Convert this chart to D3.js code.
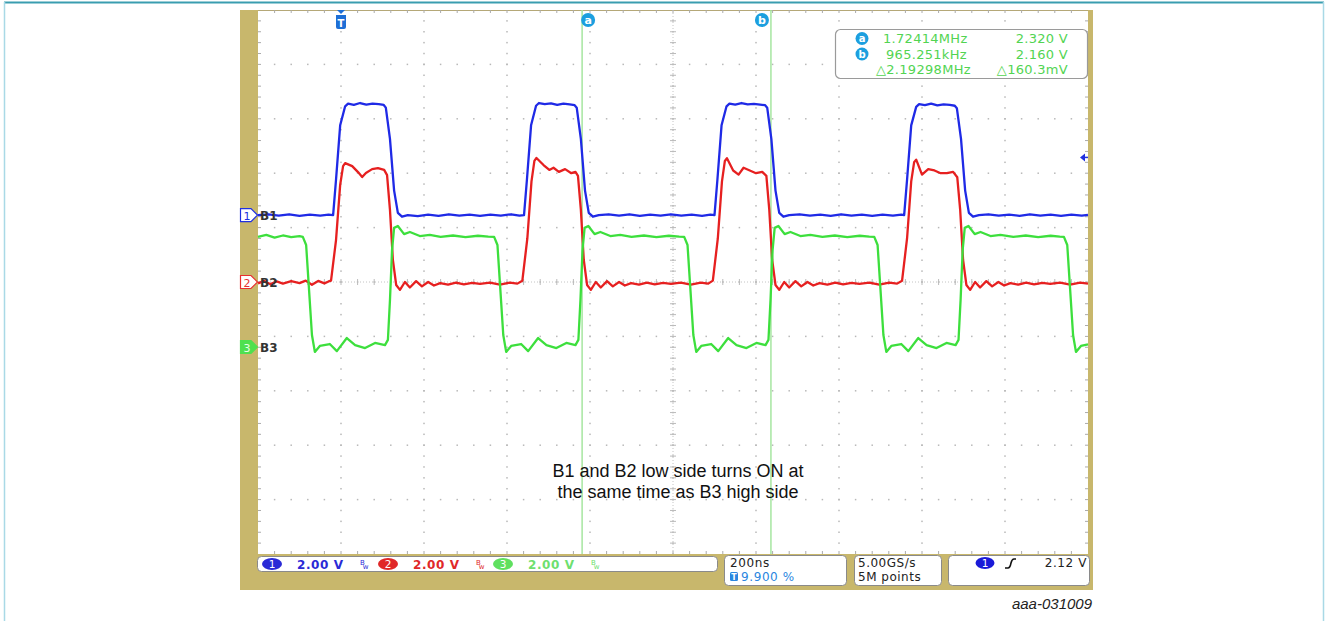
<!DOCTYPE html>
<html><head><meta charset="utf-8">
<script src="https://cdn.jsdelivr.net/npm/d3@7"></script>
<style>body{margin:0;background:#fff;} svg{display:block;}</style>
</head><body>
<svg id="c" width="1328" height="621"></svg>
<script>
// ---------------- data ----------------
const channelNames = ["B1", "B2", "B3"];
const channelNumbers = ["1", "2", "3"];
const channelOffsetsV = [2.46, 0, -2.39];      // screen offset (volts) of each channel ground
const channelScaleLabels = ["2.00 V", "2.00 V", "2.00 V"];
const timeDomainNs = [-200, 1800];             // 200 ns/div, 10 divisions
const screenVoltDomain = [-10, 10];            // 2 V/div, 10 divisions
const cursorTimesNs = [581, 1036];
const cursorLabels = ["a", "b"];
const triggerTimeNs = 0;
const triggerLevelV = 2.12;
const readoutFreq = ["1.72414MHz", "965.251kHz", "\u25B32.19298MHz"];
const readoutVolt = ["2.320 V", "2.160 V", "\u25B3160.3mV"];
const timebaseLabel = "200ns";
const triggerPosLabel = "9.900 %";
const sampleLabels = ["5.00GS/s", "5M points"];
const trigLevelLabel = "2.12 V";
const noteLines = ["B1 and B2 low side turns ON at", "the same time as B3 high side"];
const figureId = "aaa-031009";

const b1Trace = [[-200,0.00],[-175,0.03],[-150,-0.02],[-125,0.03],[-100,-0.03],[-75,0.02],[-50,-0.02],[-30,0.02],[-19,0.00],[-12,1.30],[-2,3.30],[10,4.00],[17,4.10],[31,4.05],[46,4.12],[61,4.06],[76,4.10],[91,4.08],[103,4.05],[108,3.95],[118,2.80],[128,0.90],[137,0.08],[147,-0.06],[161,0.00],[185,-0.04],[210,0.02],[235,-0.03],[260,0.03],[285,-0.02],[310,0.02],[335,-0.03],[360,0.02],[385,-0.02],[410,0.03],[430,-0.02],[441,0.00],[448,1.30],[458,3.30],[470,4.02],[477,4.12],[491,4.08],[506,4.11],[521,4.05],[536,4.10],[551,4.07],[563,4.04],[568,3.95],[578,2.80],[588,0.90],[597,0.08],[607,-0.06],[621,0.00],[645,0.03],[670,-0.02],[695,0.03],[720,-0.03],[745,0.02],[770,-0.02],[795,0.03],[820,-0.02],[845,0.02],[870,-0.03],[890,0.02],[900,0.00],[907,1.30],[917,3.30],[929,4.00],[936,4.10],[950,4.06],[965,4.12],[980,4.07],[995,4.09],[1010,4.06],[1022,4.04],[1027,3.95],[1037,2.80],[1047,0.90],[1056,0.08],[1066,-0.06],[1080,0.00],[1105,0.03],[1130,-0.02],[1155,0.02],[1180,-0.03],[1205,0.03],[1230,-0.02],[1255,0.02],[1280,-0.03],[1305,0.02],[1330,-0.02],[1350,0.02],[1357,0.00],[1364,1.30],[1374,3.30],[1386,3.98],[1393,4.08],[1407,4.04],[1422,4.10],[1437,4.03],[1452,4.07],[1467,4.05],[1479,4.02],[1484,3.93],[1494,2.80],[1504,0.90],[1513,0.08],[1523,-0.06],[1537,0.00],[1560,0.03],[1585,-0.02],[1610,0.02],[1635,-0.03],[1660,0.03],[1685,-0.02],[1710,0.02],[1735,-0.03],[1760,0.02],[1785,-0.02],[1800,0.01]];

const b2Trace = [[-200,-0.05],[-185,0.04],[-170,-0.08],[-155,0.02],[-140,-0.06],[-120,0.03],[-100,-0.04],[-85,0.05],[-70,-0.10],[-55,0.04],[-40,-0.05],[-30,0.02],[-24,0.05],[-12,1.54],[-2,3.57],[5,4.26],[10,4.37],[27,4.26],[41,4.04],[51,3.86],[60,4.01],[75,4.15],[89,4.19],[104,4.12],[111,3.93],[118,2.65],[125,0.81],[133,-0.11],[142,-0.29],[154,0.00],[166,-0.20],[181,0.03],[195,-0.16],[210,0.00],[224,-0.13],[239,-0.04],[258,-0.10],[277,-0.02],[296,-0.09],[316,-0.03],[335,-0.07],[359,-0.02],[383,-0.10],[407,-0.02],[425,-0.06],[437,0.05],[449,1.60],[459,3.70],[466,4.45],[471,4.56],[488,4.30],[502,4.12],[512,4.20],[525,4.05],[540,4.15],[555,4.00],[565,4.05],[571,3.90],[578,2.65],[585,0.81],[593,-0.11],[602,-0.29],[614,0.00],[626,-0.20],[641,0.03],[655,-0.16],[670,0.00],[684,-0.13],[699,-0.04],[718,-0.10],[737,-0.02],[756,-0.09],[776,-0.03],[795,-0.07],[819,-0.02],[843,-0.10],[867,-0.02],[885,-0.06],[896,0.05],[908,1.60],[918,3.70],[925,4.45],[930,4.55],[945,4.10],[958,3.95],[970,4.20],[985,4.10],[1000,4.00],[1015,4.05],[1025,3.90],[1032,2.65],[1039,0.81],[1047,-0.11],[1056,-0.29],[1068,0.00],[1080,-0.20],[1095,0.03],[1109,-0.16],[1124,0.00],[1138,-0.13],[1153,-0.04],[1172,-0.10],[1191,-0.02],[1210,-0.09],[1230,-0.03],[1249,-0.07],[1273,-0.02],[1297,-0.10],[1321,-0.02],[1340,-0.06],[1352,0.05],[1364,1.60],[1374,3.70],[1381,4.40],[1386,4.50],[1400,3.95],[1415,4.15],[1430,4.10],[1445,4.00],[1460,4.00],[1475,4.05],[1485,3.85],[1492,2.65],[1499,0.81],[1507,-0.11],[1516,-0.29],[1528,0.00],[1540,-0.20],[1555,0.03],[1569,-0.16],[1584,0.00],[1598,-0.13],[1613,-0.04],[1632,-0.10],[1651,-0.02],[1670,-0.09],[1690,-0.03],[1709,-0.07],[1733,-0.02],[1757,-0.10],[1781,-0.02],[1800,-0.06]];

const b3Trace = [[-200,4.05],[-180,4.12],[-160,4.02],[-140,4.10],[-120,4.04],[-100,4.08],[-92,4.05],[-84,3.75],[-77,2.10],[-70,0.44],[-63,-0.18],[-51,0.04],[-27,0.11],[-10,-0.15],[14,0.33],[34,0.07],[58,-0.04],[82,0.15],[106,0.07],[113,0.26],[118,1.73],[123,3.57],[128,4.38],[137,4.45],[152,4.15],[166,4.23],[190,4.08],[214,4.12],[240,4.05],[270,4.10],[300,4.04],[330,4.09],[355,4.06],[369,4.05],[377,3.75],[384,2.10],[391,0.44],[398,-0.18],[410,0.04],[434,0.11],[451,-0.15],[475,0.33],[495,0.07],[519,-0.04],[543,0.15],[565,0.07],[572,0.26],[577,1.73],[582,3.57],[587,4.38],[596,4.45],[611,4.15],[625,4.23],[649,4.08],[673,4.12],[700,4.05],[730,4.10],[760,4.04],[790,4.09],[815,4.06],[827,4.05],[835,3.75],[842,2.10],[849,0.44],[856,-0.18],[868,0.04],[892,0.11],[909,-0.15],[933,0.33],[953,0.07],[977,-0.04],[1001,0.15],[1023,0.07],[1030,0.26],[1035,1.73],[1040,3.57],[1045,4.38],[1054,4.45],[1069,4.15],[1083,4.23],[1107,4.08],[1131,4.12],[1160,4.05],[1190,4.10],[1220,4.04],[1250,4.09],[1273,4.06],[1285,4.05],[1293,3.75],[1300,2.10],[1307,0.44],[1314,-0.18],[1326,0.04],[1350,0.11],[1367,-0.15],[1391,0.33],[1411,0.07],[1435,-0.04],[1459,0.15],[1481,0.07],[1488,0.26],[1493,1.73],[1498,3.57],[1503,4.38],[1512,4.45],[1527,4.15],[1541,4.23],[1565,4.08],[1589,4.12],[1620,4.05],[1650,4.10],[1680,4.04],[1710,4.09],[1732,4.06],[1742,4.05],[1750,3.75],[1757,2.10],[1764,0.44],[1771,-0.18],[1783,0.04],[1800,0.10]];

const traces = [b1Trace, b2Trace, b3Trace];

// ---------------- layout / style ----------------
const traceColors = ["#1f2ae6", "#e62020", "#3ddf3d"];
const markerColors = ["#2030e0", "#e83030", "#4fe04f"];
const statusColors = ["#2a2ad6", "#e02828", "#6ee06e"];
const tan = "#c8b76c";
const P = {x0: 258, x1: 1088, y0: 10, y1: 554};
const scopeFont = "'DejaVu Sans', Verdana, sans-serif";

const svg = d3.select("#c");
const x = d3.scaleLinear().domain(timeDomainNs).range([P.x0, P.x1]);
const y = d3.scaleLinear().domain(screenVoltDomain).range([P.y1, P.y0]);

// outer figure border
svg.append("line").attr("x1", 4).attr("x2", 1324).attr("y1", 2.5).attr("y2", 2.5)
  .attr("stroke", "#3a9db0").attr("stroke-width", 2);
svg.append("line").attr("x1", 4.5).attr("x2", 4.5).attr("y1", 2).attr("y2", 621)
  .attr("stroke", "#a9d9e6").attr("stroke-width", 1.5);
svg.append("line").attr("x1", 1323.5).attr("x2", 1323.5).attr("y1", 2).attr("y2", 621)
  .attr("stroke", "#a9d9e6").attr("stroke-width", 1.5);

// scope bezel
svg.append("rect").attr("x", 240).attr("y", 10).attr("width", 853).attr("height", 580).attr("fill", tan);
svg.append("rect").attr("x", P.x0).attr("y", P.y0 + 1).attr("width", P.x1 - P.x0).attr("height", P.y1 - P.y0 - 1).attr("fill", "#fff");
svg.append("line").attr("x1", P.x0).attr("x2", P.x1).attr("y1", P.y0 + 0.5).attr("y2", P.y0 + 0.5).attr("stroke", "#b5a878").attr("stroke-width", 1);

// graticule
const g = svg.append("g");
const xDiv = (P.x1 - P.x0) / 10, yDiv = (P.y1 - P.y0) / 10;
const majorX = d3.range(1, 10).map(i => P.x0 + i * xDiv);
const majorY = d3.range(1, 10).map(i => P.y0 + i * yDiv);
const minorX = d3.range(1, 50).map(i => P.x0 + i * xDiv / 5);
const minorY = d3.range(1, 50).map(i => P.y0 + i * yDiv / 5);
const dots = [];
majorX.forEach(mx => minorY.forEach(my => dots.push([mx, my])));
majorY.forEach(my => minorX.forEach(mx => dots.push([mx, my])));
g.selectAll("rect.dot").data(dots).join("rect").attr("class", "dot")
  .attr("x", d => d[0] - 0.75).attr("y", d => d[1] - 0.75).attr("width", 1.5).attr("height", 1.5).attr("fill", "#b8b8b8");
// center lines
const cx = P.x0 + 5 * xDiv, cy = P.y0 + 5 * yDiv;
g.append("line").attr("x1", P.x0).attr("x2", P.x1).attr("y1", cy).attr("y2", cy)
  .attr("stroke", "#c4c4c4").attr("stroke-width", 1).attr("stroke-dasharray", "1,2");
g.append("line").attr("x1", cx).attr("x2", cx).attr("y1", P.y0).attr("y2", P.y1)
  .attr("stroke", "#c4c4c4").attr("stroke-width", 1).attr("stroke-dasharray", "1,2");
g.selectAll("line.ctx").data(minorX).join("line").attr("class", "ctx")
  .attr("x1", d => d).attr("x2", d => d).attr("y1", cy - 3).attr("y2", cy + 3).attr("stroke", "#bbb");
g.selectAll("line.cty").data(minorY).join("line").attr("class", "cty")
  .attr("y1", d => d).attr("y2", d => d).attr("x1", cx - 3).attr("x2", cx + 3).attr("stroke", "#bbb");
// edge ticks
g.selectAll("line.etop").data(minorX).join("line").attr("class", "etop")
  .attr("x1", d => d).attr("x2", d => d).attr("y1", P.y0).attr("y2", P.y0 + 3).attr("stroke", "#aaa");
g.selectAll("line.ebot").data(minorX).join("line").attr("class", "ebot")
  .attr("x1", d => d).attr("x2", d => d).attr("y1", P.y1 - 3).attr("y2", P.y1).attr("stroke", "#aaa");
g.selectAll("line.eleft").data(minorY).join("line").attr("class", "eleft")
  .attr("y1", d => d).attr("y2", d => d).attr("x1", P.x0).attr("x2", P.x0 + 3).attr("stroke", "#aaa");
g.selectAll("line.eright").data(minorY).join("line").attr("class", "eright")
  .attr("y1", d => d).attr("y2", d => d).attr("x1", P.x1 - 3).attr("x2", P.x1).attr("stroke", "#aaa");

// cursors
svg.selectAll("line.cursor").data(cursorTimesNs).join("line").attr("class", "cursor")
  .attr("x1", d => x(d)).attr("x2", d => x(d)).attr("y1", P.y0).attr("y2", P.y1)
  .attr("stroke", "#a6e6a0").attr("stroke-width", 1.5);

// traces
const line = d3.line();
traces.forEach((tr, i) => {
  svg.append("path")
    .attr("d", line(tr.map(d => [x(d[0]), y(d[1] + channelOffsetsV[i])])))
    .attr("fill", "none").attr("stroke", traceColors[i]).attr("stroke-width", 2.3)
    .attr("stroke-linejoin", "round");
});

// cursor badges at top
const cursorBadgeDx = [6, -9];
cursorTimesNs.forEach((t, i) => {
  const bx = x(t) + cursorBadgeDx[i];
  svg.append("circle").attr("cx", bx).attr("cy", 20).attr("r", 7).attr("fill", "#1c9fdf");
  svg.append("text").attr("x", bx).attr("y", 24).attr("text-anchor", "middle")
    .attr("font-family", scopeFont).attr("font-size", 11).attr("font-weight", "bold").attr("fill", "#fff").text(cursorLabels[i]);
});

// trigger position marker
const tx = x(triggerTimeNs);
svg.append("path").attr("d", `M${tx-4},${P.y0} L${tx+4},${P.y0} L${tx},${P.y0+4} Z`).attr("fill", "#1e6fd6");
svg.append("path").attr("d", `M${tx-5},${P.y0+5} H${tx+5} V${P.y0+17} Q${tx+5},${P.y0+19} ${tx+3},${P.y0+19} H${tx-3} Q${tx-5},${P.y0+19} ${tx-5},${P.y0+17} Z`).attr("fill", "#1e6fd6");
svg.append("text").attr("x", tx).attr("y", P.y0 + 16.5).attr("text-anchor", "middle")
  .attr("font-family", scopeFont).attr("font-size", 10).attr("font-weight", "bold").attr("fill", "#fff").text("T");

// trigger level marker (right edge)
const ty = y(channelOffsetsV[0] + triggerLevelV);
svg.append("path").attr("d", `M${P.x1-8},${ty} L${P.x1-3},${ty-4} L${P.x1-3},${ty+4} Z`).attr("fill", "#2030e0");
svg.append("line").attr("x1", P.x1 - 4).attr("x2", P.x1).attr("y1", ty).attr("y2", ty).attr("stroke", "#2030e0").attr("stroke-width", 1.5);

// channel ground markers + labels
channelNames.forEach((nm, i) => {
  const gy = y(channelOffsetsV[i]);
  const filled = i === 2;
  svg.append("path").attr("d", `M240.5,${gy-6.5} H251 L257.5,${gy} L251,${gy+6.5} H240.5 Z`)
    .attr("fill", filled ? markerColors[i] : "#fff").attr("stroke", markerColors[i]).attr("stroke-width", 1.2);
  svg.append("text").attr("x", 247).attr("y", gy + 4.5).attr("text-anchor", "middle")
    .attr("font-family", scopeFont).attr("font-size", 11).attr("fill", filled ? "#e8ffe8" : markerColors[i]).text(channelNumbers[i]);
  svg.append("text").attr("x", 260).attr("y", gy + 4.5)
    .attr("font-family", scopeFont).attr("font-size", 12).attr("font-weight", "bold").attr("fill", "#333").text(nm);
});

// cursor readout box
svg.append("rect").attr("x", 835.5).attr("y", 29.5).attr("width", 252).attr("height", 49).attr("rx", 5)
  .attr("fill", "#fff").attr("stroke", "#9a9a9a").attr("stroke-width", 1.2);
const rowY = [43, 58.5, 74];
const freqX = [883, 886, 876];
readoutFreq.forEach((s, i) => {
  svg.append("text").attr("x", freqX[i]).attr("y", rowY[i]).attr("font-family", scopeFont)
    .attr("font-size", 13).attr("letter-spacing", 0.3).attr("fill", "#52d452").text(s);
  svg.append("text").attr("x", 1068).attr("y", rowY[i]).attr("text-anchor", "end").attr("font-family", scopeFont)
    .attr("font-size", 13).attr("letter-spacing", 0.3).attr("fill", "#52d452").text(readoutVolt[i]);
});
cursorLabels.forEach((c, i) => {
  svg.append("circle").attr("cx", 862).attr("cy", rowY[i] - 4.5).attr("r", 6.5).attr("fill", "#1c9fdf");
  svg.append("text").attr("x", 862).attr("y", rowY[i] - 1).attr("text-anchor", "middle").attr("font-family", scopeFont)
    .attr("font-size", 10).attr("font-weight", "bold").attr("fill", "#fff").text(c);
});

// bottom status bar : vertical settings
svg.append("rect").attr("x", 257.5).attr("y", 556.5).attr("width", 460).attr("height", 15).attr("rx", 4)
  .attr("fill", "#fff").attr("stroke", "#8a8a8a");
const chBadgeX = [272, 388, 503];
channelNumbers.forEach((n, i) => {
  const bx = chBadgeX[i];
  svg.append("ellipse").attr("cx", bx).attr("cy", 564).attr("rx", 10).attr("ry", 6).attr("fill", i === 2 ? "#5fe05f" : statusColors[i]);
  svg.append("text").attr("x", bx).attr("y", 568).attr("text-anchor", "middle").attr("font-family", scopeFont)
    .attr("font-size", 10.5).attr("fill", "#fff").text(n);
  svg.append("text").attr("x", bx + 25).attr("y", 568.5).attr("font-family", scopeFont).attr("font-size", 12)
    .attr("font-weight", "bold").attr("letter-spacing", 0.6).attr("fill", statusColors[i]).text(channelScaleLabels[i]);
  const ix = bx + 88;
  const bw = svg.append("text").attr("x", ix).attr("y", 565).attr("font-family", scopeFont).attr("font-size", 7)
    .attr("fill", statusColors[i]);
  bw.append("tspan").text("B");
  bw.append("tspan").attr("dx", -2).attr("dy", 4).text("w");
});

// timebase box
svg.append("rect").attr("x", 724.5).attr("y", 555.5).attr("width", 122).attr("height", 30).attr("rx", 4)
  .attr("fill", "#fff").attr("stroke", "#8a8a8a");
svg.append("text").attr("x", 730).attr("y", 567).attr("font-family", scopeFont).attr("font-size", 12)
  .attr("letter-spacing", 0.6).attr("fill", "#222").text(timebaseLabel);
svg.append("rect").attr("x", 730).attr("y", 572).attr("width", 8).attr("height", 9).attr("rx", 1.5).attr("fill", "#2a86e0");
svg.append("text").attr("x", 734).attr("y", 580).attr("text-anchor", "middle").attr("font-family", scopeFont)
  .attr("font-size", 8).attr("font-weight", "bold").attr("fill", "#fff").text("T");
svg.append("text").attr("x", 741).attr("y", 581).attr("font-family", scopeFont).attr("font-size", 12)
  .attr("letter-spacing", 0.6).attr("fill", "#2a86e0").text(triggerPosLabel);

// sample rate box
svg.append("rect").attr("x", 854.5).attr("y", 555.5).attr("width", 87).attr("height", 30).attr("rx", 4)
  .attr("fill", "#fff").attr("stroke", "#8a8a8a");
sampleLabels.forEach((s, i) => {
  svg.append("text").attr("x", 858).attr("y", 567 + i * 14).attr("font-family", scopeFont).attr("font-size", 12)
    .attr("letter-spacing", 0.5).attr("fill", "#222").text(s);
});

// trigger box
svg.append("rect").attr("x", 948.5).attr("y", 555.5).attr("width", 141).attr("height", 30).attr("rx", 4)
  .attr("fill", "#fff").attr("stroke", "#8a8a8a");
svg.append("ellipse").attr("cx", 985).attr("cy", 563).attr("rx", 9.5).attr("ry", 6).attr("fill", "#1a1ad8");
svg.append("text").attr("x", 985).attr("y", 567).attr("text-anchor", "middle").attr("font-family", scopeFont)
  .attr("font-size", 10.5).attr("fill", "#fff").text("1");
svg.append("path").attr("d", "M1005,568 H1008 Q1010,568 1011,563 Q1012,559 1014,559 H1016")
  .attr("fill", "none").attr("stroke", "#111").attr("stroke-width", 1.6);
svg.append("text").attr("x", 1087).attr("y", 567).attr("text-anchor", "end").attr("font-family", scopeFont)
  .attr("font-size", 12).attr("letter-spacing", 0.6).attr("fill", "#222").text(trigLevelLabel);

// annotation
noteLines.forEach((s, i) => {
  svg.append("text").attr("x", 678).attr("y", 477 + i * 21).attr("text-anchor", "middle")
    .attr("font-family", "'Liberation Sans', Arial, sans-serif").attr("font-size", 18).attr("fill", "#111").text(s);
});

// figure id
svg.append("text").attr("x", 1092).attr("y", 609).attr("text-anchor", "end")
  .attr("font-family", "'Liberation Sans', Arial, sans-serif").attr("font-style", "italic").attr("font-size", 15)
  .attr("fill", "#222").text(figureId);
</script>
</body></html>
